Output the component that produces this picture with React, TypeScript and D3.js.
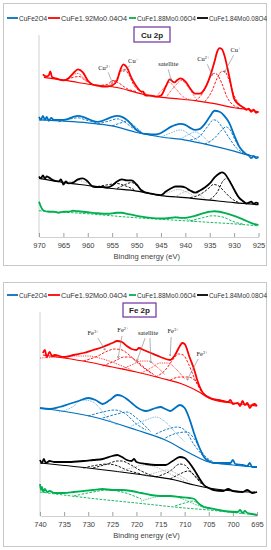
import React, { useEffect, useRef } from "react";
import * as d3 from "d3";

type Pt = [number, number];

const seriesNames = ["CuFe2O4", "CuFe1.92Mo0.04O4", "CuFe1.88Mo0.06O4", "CuFe1.84Mo0.08O4"];
const seriesColors = ["#0070C0", "#FF0000", "#00B050", "#000000"];

const cuTicks = [970, 965, 960, 955, 950, 945, 940, 935, 930, 925];
const feTicks = [740, 735, 730, 725, 720, 715, 710, 705, 700, 695];

// ---------- Cu 2p (intensity, a.u.) ----------
const cuRedRaw: Pt[] = [[969.2,161],[968.6,159],[968,160],[967.7,164],[967.3,158],[966.5,157],[966,156],[965,155],[964,157],[963,162],[962,166],[961,163],[960,155],[959,151],[958,150],[957,149],[956,149],[955,150],[954,155],[953.5,163],[952.7,171],[952,168],[951,157],[950,149],[949,144],[948.6,144],[948.4,141],[948,140],[947,140],[946,139],[945,140],[944,149],[943.2,156],[942.3,153],[941.5,156],[941,157],[940,154],[939,147],[938,142],[937,142],[936,147],[935,158],[934,174],[933.5,183],[933,187],[932.5,186],[932,180],[931,159],[930,137],[929,131],[928,128],[927.5,126],[927,127],[926.5,124],[926,126],[925.5,123],[925,124]];
const cuRedBg: Pt[] = [[969,158],[966,156],[962,153],[958,150],[954,148],[950,143],[946,139],[942,137],[938,135],[934,132],[930,128],[927,126],[925,124]];
const cuRedCu2a: Pt[] = [[938,135],[936.5,142],[935.5,152],[934.5,161],[934,162],[933.5,161],[932.5,152],[931.5,139],[930,130],[929,128]];
const cuRedCu1a: Pt[] = [[936,134],[934.5,145],[933.5,157],[932.5,164],[932,164],[931,155],[930,140],[929,132],[927.5,127],[926,125]];
const cuRedSatA: Pt[] = [[946,139],[944.5,147],[943.3,153],[942,147],[940.5,139],[939,136]];
const cuRedSatB: Pt[] = [[944,138],[942.2,149],[940.8,155],[939.5,149],[938,138]];
const cuRedCu2b: Pt[] = [[958,150],[956,151],[954.8,155],[953.5,152],[952,147],[950,144]];
const cuRedCu1b: Pt[] = [[956,149],[954,157],[953,165],[952.5,166],[951.5,160],[950.5,150],[949.5,145],[948,142]];
const cuRedSatC: Pt[] = [[965,155],[963,158],[961.8,159],[960.5,155],[959,151]];
const cuRedSatD: Pt[] = [[964.5,156],[963.2,160],[962,162],[960.8,157],[959.5,152]];

const cuBlueRaw: Pt[] = [[970,119],[969.6,116],[969.2,120],[968.8,116],[968.4,119],[968,115],[967.5,118],[967,116],[966,116],[965,116],[964,117],[963,119],[962,120],[961,119],[960,117],[959,115],[958,114],[957,115],[956,117],[955,119],[954,120],[953,119],[952,116],[951,111],[950,106],[949,103],[948,102],[947,101.5],[946,101.5],[945,103],[944,106],[943,109],[942,111],[941,112],[940,111],[939,108],[938,106],[937,107],[936,112],[935,119],[934,125],[933,124],[932,120],[931,113],[930,101],[929,90],[928,84],[927.5,82],[927,81],[926.5,78],[926,80],[925.5,78],[925,79]];
const cuBlueBg: Pt[] = [[970,116],[960,113],[955,110],[950,103.5],[945,99],[940,96],[935,91],[930,85],[927,81],[925,79]];
const cuBlueCu2a: Pt[] = [[939,96],[937,100],[935.5,109],[934.2,116],[933.5,115],[932.5,109],[931,98],[929.5,88],[928,83]];
const cuBlueCu1a: Pt[] = [[936,92],[934,98],[932.5,106],[931.7,109],[930.8,106],[929.8,96],[928.5,86],[927,81]];
const cuBlueSatA: Pt[] = [[945,99],[943,103],[941,106],[939,101],[937,94]];
const cuBlueSatB: Pt[] = [[941,97],[939.5,101],[938,104],[936.5,100],[935,93]];
const cuBlueCu2b: Pt[] = [[958,112],[955.5,115],[954,117],[952.5,114],[950.5,107],[949,104]];
const cuBlueCu1b: Pt[] = [[955,110],[953.2,113],[951.8,115],[950.5,110],[949,104]];
const cuBlueSatC: Pt[] = [[966,114],[963.5,117],[962,118],[960.5,116],[958,113]];

const cuBlackRaw: Pt[] = [[970,60],[969.6,58],[969.2,61],[968.8,58],[968.4,60],[968,59],[967,56],[966,55],[965.5,57],[965,52],[964.5,55],[964,53],[963,54],[962,57],[961,58],[960,55],[959,50],[958,49.5],[957,49.5],[956,49],[955,51],[954,55],[953,57],[952,56],[951,56],[950,52],[949,46],[948,44],[947,43],[946,42],[945,41.5],[944,45],[943,48],[942,50],[941,50],[940,49],[939,46],[938,44],[937,46],[936,49],[935,53],[934,59],[933,63],[932.5,64],[932,63],[931,56],[930,47],[929,39],[928,35],[927.5,33],[927,34],[926.5,35],[926,33],[925.5,34],[925,33]];
const cuBlackBg: Pt[] = [[970,58],[965,54],[960,51],[955,48],[950,45.5],[945,41],[940,39],[935,36.5],[930,34],[925,32]];
const cuBlackCu2a: Pt[] = [[939,39],[937,42],[935.5,47],[934.2,52],[933.3,51],[932,45],[930.5,38],[929,34]];
const cuBlackCu1a: Pt[] = [[935,37],[933.5,44],[932.2,56],[931.5,58],[930.5,52],[929.5,42],[928.5,36],[927,33]];
const cuBlackSatA: Pt[] = [[945,41],[943,45],[941.5,47],[940,45],[938,40]];
const cuBlackSatB: Pt[] = [[942,40],[940.5,44],[939,46],[937.5,43],[936,38]];
const cuBlackCu2b: Pt[] = [[958,50],[955.5,52],[954,53],[952.5,51],[950.5,47]];
const cuBlackCu1b: Pt[] = [[954,48],[952.3,52],[951,54],[950,51],[948.5,45]];
const cuBlackSatC: Pt[] = [[965,54],[963.5,55],[962,56],[960.5,54],[958.5,50]];

const cuGreenRaw: Pt[] = [[970,35],[969.7,31],[969.4,28],[969,26],[968,25],[967,25],[966,24],[965,25],[964,25],[963,26],[962,25.5],[961,25],[960,24.5],[958,23.5],[956,23],[954,24],[953,24],[952,23],[950,21],[948,19.5],[946,18.5],[944,18.5],[942,19.5],[941,19],[940,19],[938,21],[936,24],[934,25.5],[933,25],[932,24],[930,21],[928,17],[926,13],[925,12]];
const cuGreenBg: Pt[] = [[970,26],[960,23],[950,19],[945,17.5],[940,16],[935,14.5],[930,13],[925,11]];
const cuGreenSat: Pt[] = [[945,17.5],[943,19.5],[941.8,20],[940,18],[938,15.5]];
const cuGreenMain: Pt[] = [[939,16],[936.5,19],[934.5,21],[932.5,20],[930,15],[928,12.5]];

// ---------- Fe 2p (intensity, a.u.) ----------
const feRedRaw: Pt[] = [[739.4,163],[739,166],[738.6,159],[738,164],[737.5,160],[737,161],[735,159],[733,161],[731,163],[729,166],[727,169],[725,173],[724,175],[723,174],[722,170],[721,167],[720,166],[719.5,168],[718.5,166],[717,163],[715,159],[713,156],[712,161],[711,170],[710.5,173],[710,172],[709,159],[708,146],[707.4,136],[706.2,123],[704.7,118],[703,116],[702,115],[701,114],[700.5,116],[700,112],[699,113],[698.5,110],[698,115],[697.5,111],[697,113],[696.5,108],[696,111],[695.5,112],[695,110]];
const feRedBg: Pt[] = [[739.4,161],[735,158],[730,154],[725,149],[720,144],[715,138],[710,131],[707,124],[705,118],[702,114],[700,113],[695,110]];
const feRedSatUp: Pt[] = [[740,158],[736,159],[733,160],[730,160],[727,157],[724,152],[721,146]];
const feRedFe3b: Pt[] = [[731,155],[728,160],[726,165],[724.5,167],[723,166],[721.5,161],[719.5,152],[717,143]];
const feRedFe2b: Pt[] = [[727,150],[724.5,155],[722.5,159],[721.5,159],[720,155],[718,147],[716,140]];
const feRedSatA: Pt[] = [[723,147],[721,151],[719,155],[717.5,155],[716,150],[714,141]];
const feRedSatB: Pt[] = [[719,143],[717,148],[715,153],[713.5,153],[712,148],[710,137]];
const feRedFe3a: Pt[] = [[716,139],[714,146],[712.5,156],[711.3,162],[710.3,161],[709.2,152],[708,138],[706.5,124]];
const feRedFe2a: Pt[] = [[713,136],[711,139],[709.5,139],[708.5,138],[707.5,133],[706.5,125],[705,119]];

const feBlueRaw: Pt[] = [[740,108],[738,107],[736,109],[734,112],[732,115],[730,118],[728.5,116],[727,112],[725.5,116],[724,121],[723,120],[722,117],[721,113],[720,109],[718,105],[716,108],[715,109],[714,107],[713,105],[712,108],[711,111],[710,108],[709,97],[708,82],[707,69],[706,59],[705,55],[704,53],[702,53],[700.5,53],[700,56],[699.5,52],[698,51],[697,50],[696.5,53],[696,49],[695,49]];
const feBlueBg: Pt[] = [[740,108],[728,98],[720,86],[714,76],[709,63],[705,54],[700,51],[695,49]];
const feBlueSat730: Pt[] = [[736,104],[733,110],[731.5,116],[729.5,115],[728,110],[726,98],[724,91]];
const feBlueFe3b: Pt[] = [[730,100],[727,104],[724.5,106],[722.5,103],[720,92],[718,86]];
const feBlueFe2b: Pt[] = [[727,98],[724,102],[722,104],[720,98],[717,84]];
const feBlueSat716: Pt[] = [[721,90],[718,96],[716,99],[714,94],[712,84],[710,74]];
const feBlueFe3a: Pt[] = [[716,82],[713.5,87],[711.5,89],[710,86],[708,71],[706,59]];
const feBlueFe2a: Pt[] = [[714,78],[711.5,83],[709.5,84],[708,77],[706,61],[704,54]];

const feBlackRaw: Pt[] = [[740,56],[739.6,53],[739.2,57],[738.8,53],[738,55],[737,54],[736,54],[734,54],[731,55],[729,56],[727,57],[725,60],[724,61],[723,59],[722,56],[721,55],[720.5,57],[720,54],[718,52],[716,51],[714,51],[712.5,55],[711,59],[710,58],[709,53],[708,46],[707,38],[706,31],[705,28],[704,26],[702,25],[701,27],[700,25],[698,24],[697,26],[696,23],[695,24]];
const feBlackBg: Pt[] = [[740,53],[730,48],[720,42],[712,36],[708,31],[705,28],[700,25],[695,23.5]];
const feBlackFe3b: Pt[] = [[729,48],[726,52],[724,55],[723,55],[721.5,52],[719,45],[716,39]];
const feBlackFe2b: Pt[] = [[731,48],[728,51],[726,52],[724.5,51],[722,46],[719,42]];
const feBlackSatA: Pt[] = [[724,44],[721,48],[718.5,51],[716,49],[713,42],[710,35]];
const feBlackFe3a: Pt[] = [[716,39],[713,45],[711,52],[710,51],[708.5,43],[706.5,32]];
const feBlackFe2a: Pt[] = [[713,37],[711,42],[709.3,45],[708,41],[706.5,33],[705,28]];
const feBlackSatB: Pt[] = [[718,40],[715.5,44],[713.5,46],[711.5,42],[709,34]];

const feGreenRaw: Pt[] = [[740,32],[739.8,26],[739.6,29],[739.3,24],[739,27],[738.5,24],[738,25],[737,23],[735,23],[733,24],[731,25],[729,26],[727,27],[725,26],[723,26],[721,25],[719,23],[717,21],[715,20],[713,20],[711,19],[709,18],[708,17],[707,12],[706,9],[705,8],[703,6],[701,4.5],[699,4],[698.5,6],[698,3],[697.5,5],[697,3],[696,2],[695,1]];
const feGreenBg: Pt[] = [[740,24],[730,18],[720,13],[710,8],[705,6],[700,3.5],[695,1]];
const feGreenSat: Pt[] = [[719,15],[716,19],[713.5,20.5],[711,18],[708,12],[706,8]];
const feGreenMain: Pt[] = [[712,10],[710,13],[708.3,15],[707,12],[705,7.5]];
const feGreenUpper: Pt[] = [[733,20],[729,24],[726,26],[723,24],[719,17]];

// annotations: label, text anchor [e, v], arrow tails/heads [e, v]
type Note = { label: string; sup?: string; at: Pt; arrows: [Pt, Pt][] };
const cuNotes: Note[] = [
  { label: "Cu", sup: "2+", at: [956.6, 165], arrows: [[[955.8, 163], [955, 153]]] },
  { label: "Cu", sup: "+", at: [950.7, 172], arrows: [[[951.3, 170], [952.7, 164]]] },
  { label: "satellite", at: [943.5, 169], arrows: [[[943.5, 166], [942.9, 155]]] },
  { label: "Cu", sup: "2+", at: [936.3, 174], arrows: [[[935.5, 171], [934.5, 160]]] },
  { label: "Cu", sup: "+", at: [929.7, 183], arrows: [[[930.1, 180], [932, 163]]] },
];
const feNotes: Note[] = [
  { label: "Fe", sup: "3+", at: [729, 181], arrows: [[[728, 178], [726.5, 166]]] },
  { label: "Fe", sup: "2+", at: [722.8, 184], arrows: [[[723, 180], [723.8, 158]]] },
  { label: "satellite", at: [717.6, 181], arrows: [[[718.2, 178], [719.9, 155]], [[717.2, 178], [717, 153]]] },
  { label: "Fe", sup: "3+", at: [712.4, 183], arrows: [[[712.8, 179], [713, 160]]] },
  { label: "Fe", sup: "2+", at: [706.4, 160], arrows: [[[707.2, 157], [709.5, 136]]] },
];

type Kind = "raw" | "bg" | "dash" | "dot" | "gray";
type Curve = { data: Pt[]; color: string; kind: Kind };

const [BLUE, RED, GREEN, BLACK] = seriesColors;
const LIGHT_BLUE = "#3d9be0";

const cuCurves: Curve[] = [
  { data: cuRedBg, color: RED, kind: "bg" },
  { data: cuRedCu2a, color: RED, kind: "dash" },
  { data: cuRedCu1a, color: RED, kind: "dash" },
  { data: cuRedSatA, color: RED, kind: "dot" },
  { data: cuRedSatB, color: RED, kind: "dot" },
  { data: cuRedCu2b, color: RED, kind: "dash" },
  { data: cuRedCu1b, color: RED, kind: "dash" },
  { data: cuRedSatC, color: RED, kind: "dash" },
  { data: cuRedSatD, color: RED, kind: "dot" },
  { data: cuRedRaw, color: RED, kind: "raw" },
  { data: cuBlueBg, color: BLUE, kind: "bg" },
  { data: cuBlueCu2a, color: BLUE, kind: "dash" },
  { data: cuBlueCu1a, color: BLUE, kind: "dash" },
  { data: cuBlueSatA, color: LIGHT_BLUE, kind: "dot" },
  { data: cuBlueSatB, color: LIGHT_BLUE, kind: "dot" },
  { data: cuBlueCu2b, color: BLUE, kind: "dash" },
  { data: cuBlueCu1b, color: BLUE, kind: "dash" },
  { data: cuBlueSatC, color: BLUE, kind: "dash" },
  { data: cuBlueRaw, color: BLUE, kind: "raw" },
  { data: cuBlackBg, color: BLACK, kind: "bg" },
  { data: cuBlackCu2a, color: BLACK, kind: "dash" },
  { data: cuBlackCu1a, color: BLACK, kind: "dash" },
  { data: cuBlackSatA, color: "#999", kind: "gray" },
  { data: cuBlackSatB, color: "#999", kind: "gray" },
  { data: cuBlackCu2b, color: BLACK, kind: "dash" },
  { data: cuBlackCu1b, color: BLACK, kind: "dash" },
  { data: cuBlackSatC, color: "#999", kind: "gray" },
  { data: cuBlackRaw, color: BLACK, kind: "raw" },
  { data: cuGreenBg, color: GREEN, kind: "dash" },
  { data: cuGreenSat, color: GREEN, kind: "dot" },
  { data: cuGreenMain, color: GREEN, kind: "dash" },
  { data: cuGreenRaw, color: GREEN, kind: "raw" },
];

const feCurves: Curve[] = [
  { data: feRedBg, color: RED, kind: "bg" },
  { data: feRedSatUp, color: RED, kind: "dot" },
  { data: feRedFe3b, color: RED, kind: "dash" },
  { data: feRedFe2b, color: RED, kind: "dash" },
  { data: feRedSatA, color: RED, kind: "dot" },
  { data: feRedSatB, color: RED, kind: "dot" },
  { data: feRedFe3a, color: RED, kind: "dash" },
  { data: feRedFe2a, color: RED, kind: "dash" },
  { data: feRedRaw, color: RED, kind: "raw" },
  { data: feBlueBg, color: BLUE, kind: "bg" },
  { data: feBlueSat730, color: LIGHT_BLUE, kind: "dot" },
  { data: feBlueFe3b, color: BLUE, kind: "dash" },
  { data: feBlueFe2b, color: BLUE, kind: "dash" },
  { data: feBlueSat716, color: LIGHT_BLUE, kind: "dot" },
  { data: feBlueFe3a, color: BLUE, kind: "dash" },
  { data: feBlueFe2a, color: BLUE, kind: "dash" },
  { data: feBlueRaw, color: BLUE, kind: "raw" },
  { data: feBlackBg, color: BLACK, kind: "bg" },
  { data: feBlackFe3b, color: BLACK, kind: "dash" },
  { data: feBlackFe2b, color: BLACK, kind: "dash" },
  { data: feBlackSatA, color: "#999", kind: "gray" },
  { data: feBlackFe3a, color: BLACK, kind: "dash" },
  { data: feBlackFe2a, color: BLACK, kind: "dash" },
  { data: feBlackSatB, color: "#999", kind: "gray" },
  { data: feBlackRaw, color: BLACK, kind: "raw" },
  { data: feGreenBg, color: GREEN, kind: "dash" },
  { data: feGreenUpper, color: GREEN, kind: "dash" },
  { data: feGreenSat, color: GREEN, kind: "dot" },
  { data: feGreenMain, color: GREEN, kind: "dash" },
  { data: feGreenRaw, color: GREEN, kind: "raw" },
];

const strokeStyle: Record<Kind, { w: number; dash?: string }> = {
  raw: { w: 1.8 },
  bg: { w: 1.2 },
  dash: { w: 0.9, dash: "2.6,1.4" },
  dot: { w: 0.9, dash: "0.8,1" },
  gray: { w: 0.9, dash: "0.8,1" },
};

const FONT = "Liberation Sans, Arial, sans-serif";

type PanelProps = {
  top: number; height: number; legendY: number; box: [number, number, number, number];
  title: string; domain: [number, number]; ticks: number[];
  left: number; right: number; plotTop: number; axisY: number; yMax: number;
  curves: Curve[]; notes: Note[]; id: string;
};

function Panel(p: PanelProps) {
  const axisRef = useRef<SVGGElement>(null);
  const x = d3.scaleLinear().domain(p.domain).range([p.left, p.right]);
  const y = d3.scaleLinear().domain([0, p.yMax]).range([p.axisY, p.plotTop]);
  const line = d3.line<Pt>().x(d => x(d[0])).y(d => y(d[1])).curve(d3.curveMonotoneX);

  useEffect(() => {
    const g = d3.select(axisRef.current!);
    g.call(d3.axisBottom(x).tickValues(p.ticks).tickSizeInner(-4).tickSizeOuter(0).tickPadding(6).tickFormat(d3.format("d")));
    g.select(".domain").attr("stroke", "#d0d0d0");
    g.selectAll(".tick line").attr("stroke", "#a0a0a0");
    g.selectAll(".tick text").attr("fill", "#404040").attr("font-size", 7.5).attr("font-family", FONT);
  }, []);

  const legendLines: [number, number, number, number][] = [[7, 18, 19, 28], [48, 60, 61, 66], [129, 136, 137, 59], [197, 208, 209, 58]];
  const [bx, by, bw, bh] = p.box;

  return (
    <g>
      <rect x={3.5} y={p.top + 0.5} width={263} height={p.height} fill="#fff" stroke="#c8c8c8" strokeWidth={1} />
      {seriesNames.map((name, i) => {
        const [x1, x2, tx, tl] = legendLines[i];
        return (
          <g key={name}>
            <line x1={x1} x2={x2} y1={p.legendY} y2={p.legendY} stroke={seriesColors[i]} strokeWidth={1.8} />
            <text x={tx} y={p.legendY + 2.5} fontSize={7} fontFamily={FONT} fill="#333" textLength={tl} lengthAdjust="spacingAndGlyphs">{name}</text>
          </g>
        );
      })}
      <rect x={bx} y={by} width={bw} height={bh} fill="#fff" stroke="#7030A0" strokeWidth={1.2} />
      <text x={bx + bw / 2} y={by + bh / 2 + 3} textAnchor="middle" fontSize={8} fontWeight="bold" fontFamily={FONT} fill="#222">{p.title}</text>

      <line x1={p.left} x2={p.left} y1={p.plotTop} y2={p.axisY} stroke="#d0d0d0" strokeWidth={1} />
      <g ref={axisRef} transform={`translate(0,${p.axisY})`} />
      <text x={(p.left + p.right) / 2 - 2} y={p.axisY + 22} textAnchor="middle" fontSize={7.5} fontFamily={FONT} fill="#404040">Binding energy (eV)</text>

      {p.curves.map((c, i) => {
        const s = strokeStyle[c.kind];
        return <path key={i} d={line(c.data) || ""} fill="none" stroke={c.color} strokeWidth={s.w} strokeDasharray={s.dash} strokeLinejoin="round" />;
      })}

      {p.notes.map((n, i) => (
        <g key={i}>
          {n.arrows.map(([a, b], j) => (
            <line key={j} x1={x(a[0])} y1={y(a[1])} x2={x(b[0])} y2={y(b[1])} stroke="#808080" strokeWidth={0.6} markerEnd={`url(#arr-${p.id})`} />
          ))}
          <text x={x(n.at[0])} y={y(n.at[1])} textAnchor="middle" fontSize={6.5} fontFamily="Liberation Serif, Times New Roman, serif" fill="#222">
            {n.label}
            {n.sup && <tspan fontSize={4.5} dy={-2.5}>{n.sup}</tspan>}
          </text>
        </g>
      ))}
      <defs>
        <marker id={`arr-${p.id}`} viewBox="0 0 6 6" refX={5} refY={3} markerWidth={4} markerHeight={4} orient="auto">
          <path d="M0,0 L6,3 L0,6" fill="none" stroke="#606060" strokeWidth={1} />
        </marker>
      </defs>
    </g>
  );
}

export default function App() {
  return (
    <svg width={271} height={550} style={{ position: "absolute", left: 0, top: 0, background: "#fff" }}>
      <Panel id="cu" top={3} height={262} legendY={18} box={[134, 27, 36, 15]} title="Cu 2p"
        domain={[970, 925]} ticks={cuTicks} left={39} right={258.5} plotTop={35} axisY={237} yMax={200}
        curves={cuCurves} notes={cuNotes} />
      <Panel id="fe" top={282} height={264} legendY={295} box={[123, 303, 33, 14]} title="Fe 2p"
        domain={[740, 695]} ticks={feTicks} left={40} right={257} plotTop={312} axisY={516} yMax={204}
        curves={feCurves} notes={feNotes} />
    </svg>
  );
}
